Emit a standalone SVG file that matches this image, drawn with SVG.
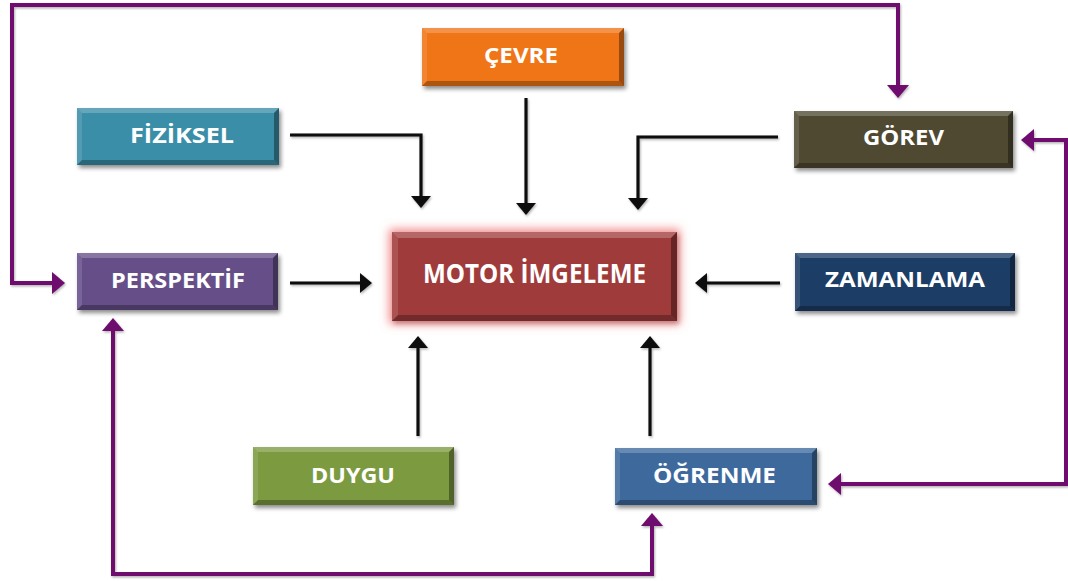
<svg xmlns="http://www.w3.org/2000/svg" width="1068" height="581" viewBox="0 0 1068 581">
  <defs>
    <style>
      .label { font-family: "Open Sans", "Liberation Sans", sans-serif; font-weight: 700; fill: #ffffff; text-anchor: middle; }
      .small { font-size: 21px; }
      .big { font-size: 26px; }
      .hi-t { fill: rgba(255,255,255,0.22); }
      .hi-l { fill: rgba(255,255,255,0.12); }
      .lo-b { fill: rgba(0,0,0,0.28); }
      .lo-r { fill: rgba(0,0,0,0.36); }
      .flow { fill: none; stroke: #0d0d0d; stroke-width: 3.2; marker-end: url(#headBlack); }
      .loop { fill: none; stroke: #6e0a6e; stroke-width: 4; marker-start: url(#headPurple); marker-end: url(#headPurple); }
    </style>
    <filter id="boxShadow" x="-10%" y="-20%" width="125%" height="150%">
      <feDropShadow dx="2" dy="3" stdDeviation="2" flood-color="#000" flood-opacity="0.45"/>
    </filter>
    <filter id="coreGlow" x="-20%" y="-40%" width="140%" height="180%">
      <feMorphology in="SourceAlpha" operator="dilate" radius="3" result="d"/>
      <feGaussianBlur in="d" stdDeviation="5" result="b"/>
      <feFlood flood-color="#f07a7a" flood-opacity="0.85"/>
      <feComposite in2="b" operator="in" result="glow"/>
      <feDropShadow in="SourceGraphic" dx="2" dy="3" stdDeviation="2" flood-color="#000" flood-opacity="0.35" result="sh"/>
      <feMerge>
        <feMergeNode in="glow"/>
        <feMergeNode in="sh"/>
      </feMerge>
    </filter>
    <filter id="lineShadow" x="-5%" y="-5%" width="110%" height="110%">
      <feDropShadow dx="1" dy="1.5" stdDeviation="1" flood-color="#000" flood-opacity="0.3"/>
    </filter>
    <marker id="headBlack" viewBox="0 0 12 20" refX="2" refY="10" markerWidth="12" markerHeight="20" markerUnits="userSpaceOnUse" orient="auto-start-reverse">
      <path d="M0 0L12 10L0 20Z" fill="#0d0d0d"/>
    </marker>
    <marker id="headPurple" viewBox="0 0 13 22" refX="3" refY="11" markerWidth="13" markerHeight="22" markerUnits="userSpaceOnUse" orient="auto-start-reverse">
      <path d="M0 0L13 11L0 22Z" fill="#6e0a6e"/>
    </marker>
  </defs>

  <rect width="1068" height="581" fill="#ffffff"/>

  <!-- connectors -->
  <g id="connectors" filter="url(#lineShadow)">
    <path class="flow" d="M290 135H421V198"/>
    <path class="flow" d="M526 98V205"/>
    <path class="flow" d="M778 137H638V200"/>
    <path class="flow" d="M290 283H362"/>
    <path class="flow" d="M780 283H705"/>
    <path class="flow" d="M418 436V346"/>
    <path class="flow" d="M650 436V346"/>
    <path class="loop" d="M898 88V5H12V283H55"/>
    <path class="loop" d="M1031 140H1066V484H838"/>
    <path class="loop" d="M113 328V574H652V523"/>
  </g>

  <!-- central node -->
  <g id="motor-imgeleme" transform="translate(392 232)">
    <rect width="285" height="89" fill="#a03b3b" filter="url(#coreGlow)"/>
    <rect width="285" height="89" fill="#a03b3b"/>
    <path class="hi-t" d="M0 0H285L279 6H6Z"/>
    <path class="hi-l" d="M0 0L6 6V83L0 89Z"/>
    <path class="lo-b" d="M0 89L6 83H279L285 89Z"/>
    <path class="lo-r" d="M285 0V89L279 83V6Z"/>
    <text class="label big" x="142.5" y="51" textLength="223" lengthAdjust="spacingAndGlyphs">MOTOR İMGELEME</text>
  </g>

  <g id="cevre" transform="translate(422 28)">
    <rect width="202" height="58" fill="#f07412" filter="url(#boxShadow)"/>
    <path class="hi-t" d="M0 0H202L197 5H5Z"/>
    <path class="hi-l" d="M0 0L5 5V53L0 58Z"/>
    <path class="lo-b" d="M0 58L5 53H197L202 58Z"/>
    <path class="lo-r" d="M202 0V58L197 53V5Z"/>
    <text class="label small" x="99" y="35" textLength="74" lengthAdjust="spacingAndGlyphs">ÇEVRE</text>
  </g>

  <g id="fiziksel" transform="translate(77 108)">
    <rect width="202" height="57" fill="#3a8ea8" filter="url(#boxShadow)"/>
    <path class="hi-t" d="M0 0H202L197 5H5Z"/>
    <path class="hi-l" d="M0 0L5 5V52L0 57Z"/>
    <path class="lo-b" d="M0 57L5 52H197L202 57Z"/>
    <path class="lo-r" d="M202 0V57L197 52V5Z"/>
    <text class="label small" x="105" y="35" textLength="104" lengthAdjust="spacingAndGlyphs">FİZİKSEL</text>
  </g>

  <g id="perspektif" transform="translate(77 253)">
    <rect width="201" height="57" fill="#665088" filter="url(#boxShadow)"/>
    <path class="hi-t" d="M0 0H201L196 5H5Z"/>
    <path class="hi-l" d="M0 0L5 5V52L0 57Z"/>
    <path class="lo-b" d="M0 57L5 52H196L201 57Z"/>
    <path class="lo-r" d="M201 0V57L196 52V5Z"/>
    <text class="label small" x="101" y="35" textLength="134" lengthAdjust="spacingAndGlyphs">PERSPEKTİF</text>
  </g>

  <g id="gorev" transform="translate(794 111)">
    <rect width="219" height="57" fill="#4f4a30" filter="url(#boxShadow)"/>
    <path class="hi-t" d="M0 0H219L214 5H5Z"/>
    <path class="hi-l" d="M0 0L5 5V52L0 57Z"/>
    <path class="lo-b" d="M0 57L5 52H214L219 57Z"/>
    <path class="lo-r" d="M219 0V57L214 52V5Z"/>
    <text class="label small" x="109.5" y="34" textLength="81" lengthAdjust="spacingAndGlyphs">GÖREV</text>
  </g>

  <g id="zamanlama" transform="translate(795 253)">
    <rect width="220" height="58" fill="#1f3d66" filter="url(#boxShadow)"/>
    <path class="hi-t" d="M0 0H220L215 5H5Z"/>
    <path class="hi-l" d="M0 0L5 5V53L0 58Z"/>
    <path class="lo-b" d="M0 58L5 53H215L220 58Z"/>
    <path class="lo-r" d="M220 0V58L215 53V5Z"/>
    <text class="label small" x="110" y="34" textLength="160" lengthAdjust="spacingAndGlyphs">ZAMANLAMA</text>
  </g>

  <g id="ogrenme" transform="translate(615 448)">
    <rect width="202" height="57" fill="#3e699d" filter="url(#boxShadow)"/>
    <path class="hi-t" d="M0 0H202L197 5H5Z"/>
    <path class="hi-l" d="M0 0L5 5V52L0 57Z"/>
    <path class="lo-b" d="M0 57L5 52H197L202 57Z"/>
    <path class="lo-r" d="M202 0V57L197 52V5Z"/>
    <text class="label small" x="99.5" y="35" textLength="123" lengthAdjust="spacingAndGlyphs">ÖĞRENME</text>
  </g>

  <g id="duygu" transform="translate(253 447)">
    <rect width="201" height="58" fill="#7b9a41" filter="url(#boxShadow)"/>
    <path class="hi-t" d="M0 0H201L196 5H5Z"/>
    <path class="hi-l" d="M0 0L5 5V53L0 58Z"/>
    <path class="lo-b" d="M0 58L5 53H196L201 58Z"/>
    <path class="lo-r" d="M201 0V58L196 53V5Z"/>
    <text class="label small" x="100" y="36" textLength="84" lengthAdjust="spacingAndGlyphs">DUYGU</text>
  </g>
</svg>
